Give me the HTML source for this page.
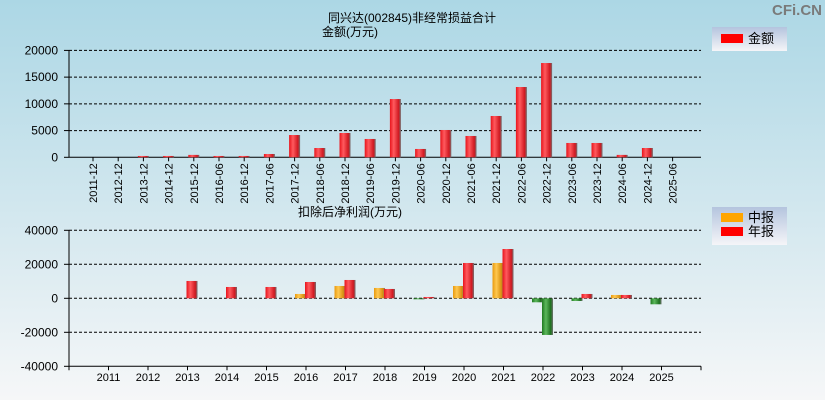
<!DOCTYPE html>
<html><head><meta charset="utf-8">
<style>
html,body{margin:0;padding:0;}
body{width:825px;height:400px;overflow:hidden;background:linear-gradient(#acd7e5,#d4e8ef 55%,#f6f7f8);font-family:"Liberation Sans","Noto Sans CJK SC",sans-serif;}
svg{position:absolute;left:0;top:0;}
text{font-family:"Liberation Sans","Noto Sans CJK SC",sans-serif;}
</style></head>
<body>
<svg id="c" width="825" height="400">
<defs>
<linearGradient id="gr" x1="0" x2="1"><stop offset="0" stop-color="#e8141c"/><stop offset="0.35" stop-color="#ff5a5e"/><stop offset="0.8" stop-color="#d01820"/><stop offset="1" stop-color="#707070"/></linearGradient>
<linearGradient id="go" x1="0" x2="1"><stop offset="0" stop-color="#e89a10"/><stop offset="0.35" stop-color="#ffc850"/><stop offset="0.8" stop-color="#d89010"/><stop offset="1" stop-color="#808070"/></linearGradient>
<linearGradient id="gg" x1="0" x2="1"><stop offset="0" stop-color="#1f7a20"/><stop offset="0.35" stop-color="#5cb85c"/><stop offset="0.8" stop-color="#1d701e"/><stop offset="1" stop-color="#707070"/></linearGradient>
<linearGradient id="gl" x1="0" x2="0" y1="0" y2="1"><stop offset="0" stop-color="#b4c4de"/><stop offset="1" stop-color="#f5f5f8"/></linearGradient>
</defs>
<text x="412" y="22" text-anchor="middle" font-size="12">同兴达(002845)非经常损益合计</text>
<text x="350" y="36" text-anchor="middle" font-size="12">金额(万元)</text>
<text x="350" y="216" text-anchor="middle" font-size="12">扣除后净利润(万元)</text>
<text x="822" y="15" text-anchor="end" font-size="15" font-weight="bold" fill="#7a7a7a">CFi.CN</text>
<g>
<rect x="712" y="27" width="75" height="24" fill="url(#gl)"/>
<rect x="721" y="34" width="22" height="9" fill="#ff0000"/>
<text x="748" y="43" font-size="13">金额</text>
</g>
<g>
<rect x="712" y="207" width="75" height="38" fill="url(#gl)"/>
<rect x="721" y="213" width="22" height="9" fill="#ffa500"/>
<text x="748" y="222" font-size="13">中报</text>
<rect x="721" y="227" width="22" height="9" fill="#ff0000"/>
<text x="748" y="236" font-size="13">年报</text>
</g>
<g id="top"></g><g id="bot"></g>
</svg>
<script>
var topCats=["2011-12","2012-12","2013-12","2014-12","2015-12","2016-06","2016-12","2017-06","2017-12","2018-06","2018-12","2019-06","2019-12","2020-06","2020-12","2021-06","2021-12","2022-06","2022-12","2023-06","2023-12","2024-06","2024-12","2025-06"];
var topVals=[0,0,250,250,450,250,250,620,4170,1740,4550,3430,10900,1560,5110,3990,7730,13150,17640,2680,2680,450,1740,0];
var topTicks=[0,5000,10000,15000,20000];
var botYears=["2011","2012","2013","2014","2015","2016","2017","2018","2019","2020","2021","2022","2023","2024","2025"];
var interimVals=[null,null,null,null,null,2550,7250,6080,-600,7250,20780,-2350,-1570,1960,-3530];
var annualVals=[null,null,10200,6660,6660,9600,10780,5490,780,20780,29000,-21560,2550,1960,null];
var botTicks=[-40000,-20000,0,20000,40000];

var NS="http://www.w3.org/2000/svg";
function mk(p,tag,a){var e=document.createElementNS(NS,tag);for(var k in a)e.setAttribute(k,a[k]);p.appendChild(e);return e;}
var L=69,R=701;
// top chart
var tg=document.getElementById('top');
function yT(v){return 157.3-v*(106.9/20000);}
function xT(i){return 93+25.2*i;}
topTicks.forEach(function(t){
  var y=yT(t);
  if(t>0){var g=mk(tg,'line',{x1:L,x2:R,y1:y,y2:y,stroke:'#000','stroke-dasharray':'3,2','stroke-width':1});
  
  }
  mk(tg,'line',{x1:L-5,x2:L,y1:y,y2:y,stroke:'#000'});
  var tx=mk(tg,'text',{x:L-11,y:y+4,'text-anchor':'end','font-size':12});tx.textContent=t;
  
  
});
mk(tg,'line',{x1:L,x2:L,y1:yT(20000),y2:yT(0),stroke:'#000'});
mk(tg,'line',{x1:L,x2:R,y1:yT(0),y2:yT(0),stroke:'#000'});
topCats.forEach(function(c,i){
  var x=xT(i);
  mk(tg,'line',{x1:x,x2:x,y1:yT(0),y2:yT(0)+4,stroke:'#000'});
  var t=mk(tg,'text',{x:0,y:0,'text-anchor':'end','font-size':11,transform:'translate('+(x+4)+','+(yT(0)+6)+') rotate(-90)'});
  t.textContent=c;
  
  
  var v=topVals[i];
  if(v>0){var b=mk(tg,'rect',{x:x-5.5,y:yT(v),width:11,height:yT(0)-yT(v),fill:'url(#gr)'});
  
  }
});
// bottom chart
var bg=document.getElementById('bot');
function yB(v){return 298.3-v*(34/20000);}
function xB(i){return 108.5+39.5*i;}
botTicks.forEach(function(t){
  var y=yB(t);
  if(t>-40000){var g=mk(bg,'line',{x1:L,x2:R,y1:y,y2:y,stroke:'#000','stroke-dasharray':'3,2','stroke-width':1});
  
  }
  mk(bg,'line',{x1:L-5,x2:L,y1:y,y2:y,stroke:'#000'});
  var tx=mk(bg,'text',{x:L-11,y:y+4,'text-anchor':'end','font-size':12});tx.textContent=t;
  
  
});
mk(bg,'line',{x1:L,x2:L,y1:yB(40000),y2:yB(-40000),stroke:'#000'});
mk(bg,'line',{x1:L,x2:R,y1:yB(-40000),y2:yB(-40000),stroke:'#000'});
for(var k=0;k<=16;k++){var xx=L+39.5*k;mk(bg,'line',{x1:xx,x2:xx,y1:yB(-40000),y2:yB(-40000)+4,stroke:'#000'});}
botYears.forEach(function(yr,i){
  var x=xB(i);
  var t=mk(bg,'text',{x:x,y:381,'text-anchor':'middle','font-size':11});t.textContent=yr;
  
  
  var iv=interimVals[i],av=annualVals[i];
  if(iv!==null){var y0=Math.min(yB(0),yB(iv)),h=Math.abs(yB(iv)-yB(0));
    var b=mk(bg,'rect',{x:x-11,y:y0,width:11,height:h,fill:iv<0?'url(#gg)':'url(#go)'});
    
    }
  if(av!==null){var y1=Math.min(yB(0),yB(av)),h1=Math.abs(yB(av)-yB(0));
    var b2=mk(bg,'rect',{x:x-1,y:y1,width:11,height:h1,fill:av<0?'url(#gg)':'url(#gr)'});
    
    }
});
</script>
</body></html>
